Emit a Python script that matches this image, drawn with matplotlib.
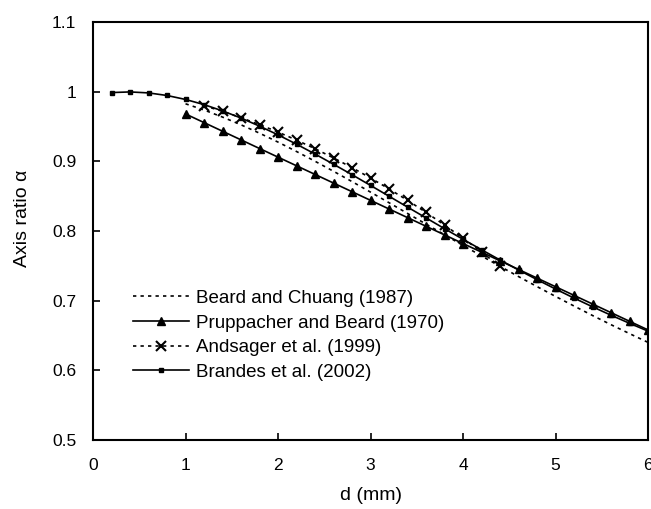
import matplotlib
matplotlib.use('Agg')
import matplotlib.pyplot as plt

plt.rcParams['font.family'] = ['Liberation Sans', 'DejaVu Sans']
plt.rcParams['font.size'] = 12

# Beard and Chuang (1987), d = 1.0 ... 6.0 mm
d_bc = [1.0, 1.2, 1.4, 1.6, 1.8, 2.0, 2.2, 2.4, 2.6, 2.8, 3.0, 3.2, 3.4,
        3.6, 3.8, 4.0, 4.2, 4.4, 4.6, 4.8, 5.0, 5.2, 5.4, 5.6, 5.8, 6.0]
a_bc = [0.9826, 0.9737, 0.9635, 0.9524, 0.9404, 0.9276, 0.9141, 0.9001,
        0.8857, 0.8709, 0.8558, 0.8406, 0.8252, 0.8099, 0.7946, 0.7793,
        0.7642, 0.7493, 0.7346, 0.7202, 0.7061, 0.6923, 0.6787, 0.6655,
        0.6527, 0.6401]

# Pruppacher and Beard (1970)
d_pb = d_bc
a_pb = [0.9680, 0.9556, 0.9432, 0.9308, 0.9184, 0.9060, 0.8936, 0.8812,
        0.8688, 0.8564, 0.8440, 0.8316, 0.8192, 0.8068, 0.7944, 0.7820,
        0.7696, 0.7572, 0.7448, 0.7324, 0.7200, 0.7076, 0.6952, 0.6828,
        0.6704, 0.6580]

# Andsager et al. (1999)
d_an = [1.2, 1.4, 1.6, 1.8, 2.0, 2.2, 2.4, 2.6, 2.8, 3.0, 3.2, 3.4, 3.6,
        3.8, 4.0, 4.2, 4.4]
a_an = [0.9799, 0.9717, 0.9626, 0.9527, 0.9420, 0.9305, 0.9181, 0.9049,
        0.8909, 0.8761, 0.8604, 0.8440, 0.8267, 0.8085, 0.7896, 0.7698,
        0.7492]

# Brandes et al. (2002)
d_br = [0.2, 0.4, 0.6, 0.8, 1.0, 1.2, 1.4, 1.6, 1.8, 2.0, 2.2, 2.4, 2.6,
        2.8, 3.0, 3.2, 3.4, 3.6, 3.8, 4.0, 4.2, 4.4, 4.6, 4.8, 5.0, 5.2,
        5.4, 5.6, 5.8, 6.0]
a_br = [0.9987, 0.9996, 0.9982, 0.9945, 0.9888, 0.9814, 0.9724, 0.9621,
        0.9505, 0.9380, 0.9246, 0.9105, 0.8958, 0.8808, 0.8654, 0.8499,
        0.8343, 0.8188, 0.8033, 0.7881, 0.7731, 0.7584, 0.7441, 0.7302,
        0.7167, 0.7037, 0.6912, 0.6791, 0.6675, 0.6563]

fig = plt.figure(figsize=(6.51, 5.09), dpi=100)
ax = fig.add_axes([0.1429, 0.1356, 0.8525, 0.8212])

ax.plot(d_bc, a_bc, color='k', lw=1.2, ls=(0, (2, 2.5)),
        label='Beard and Chuang (1987)')
ax.plot(d_pb, a_pb, color='k', lw=1.2, marker='^', ms=5.5,
        label='Pruppacher and Beard (1970)')
ax.plot(d_an, a_an, color='k', lw=1.2, ls=(0, (2, 2.5)), marker='x', ms=7,
        mew=1.5, label='Andsager et al. (1999)')
ax.plot(d_br, a_br, color='k', lw=1.2, marker='s', ms=2.5,
        label='Brandes et al. (2002)')

ax.set_xlim(0, 6)
ax.set_ylim(0.5, 1.1)
ax.set_xticks([0, 1, 2, 3, 4, 5, 6])
ax.set_yticks([0.5, 0.6, 0.7, 0.8, 0.9, 1.0, 1.1])
ax.set_yticklabels(['0.5', '0.6', '0.7', '0.8', '0.9', '1', '1.1'])
ax.tick_params(direction='in', length=5, width=1.2, labelsize=12.5)
ax.tick_params(axis='y', pad=12)
ax.tick_params(axis='x', pad=13)
for s in ax.spines.values():
    s.set_linewidth(1.5)

ax.set_xlabel('d (mm)', fontsize=14)
ax.set_ylabel('Axis ratio α', fontsize=14)
ax.xaxis.set_label_coords(0.5, -0.113)
ax.yaxis.set_label_coords(-0.112, 0.53)

ax.legend(loc='upper left', bbox_to_anchor=(0.072, 0.359), frameon=False,
          borderpad=0, borderaxespad=0, handlelength=2.97, handletextpad=0.37,
          labelspacing=0.40, numpoints=1, fontsize=13.5)

plt.savefig('out.png', dpi=100)
plt.close()
